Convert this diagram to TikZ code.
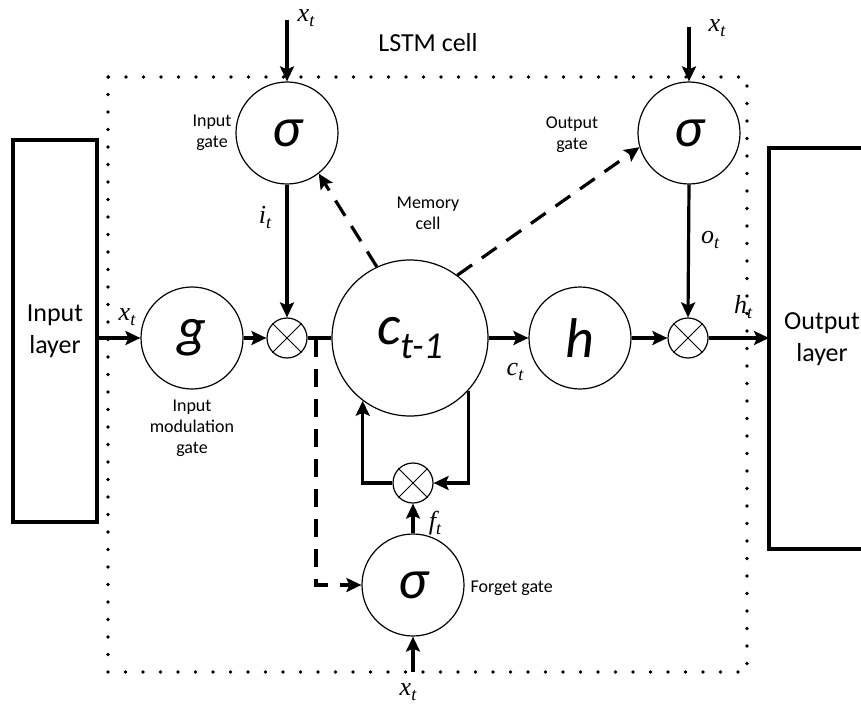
\documentclass[tikz,border=0pt]{standalone}
\usepackage{fontspec}
\setmainfont{Carlito}
\newfontfamily\tnr{Liberation Serif}
\usetikzlibrary{arrows.meta,calc}
\newcommand{\vr}[2]{{\tnr\itshape\fontsize{26}{26}\selectfont #1\raisebox{-5pt}{\fontsize{18}{18}\selectfont #2}}}
\tikzset{
  circ/.style={draw,circle,line width=1.2pt,minimum size=102pt,inner sep=0pt,font=\fontsize{56}{56}\selectfont\itshape},
  mult/.style={draw,circle,line width=1.2pt,minimum size=40pt,inner sep=0pt},
  arr/.style={line width=3.2pt,-{Stealth[length=15pt,width=14pt,inset=3pt]}},
  plain/.style={line width=3.2pt},
  dsh/.style={line width=3.2pt,dash pattern=on 18pt off 12pt},
  darr/.style={dsh,-{Stealth[length=15pt,width=14pt,inset=3pt]}},
  small/.style={font=\fontsize{18}{21}\selectfont,align=center},
  big/.style={font=\fontsize{26}{32}\selectfont,align=center},
  layerbox/.style={draw,line width=3.2pt},
}
\begin{document}
\begin{tikzpicture}[x=1pt,y=-1pt]
\useasboundingbox (0,0) rectangle (861,706);
% dotted cell boundary
\draw[line width=3.6pt,line cap=round,dash pattern=on 0pt off 17.5pt] (108,77) rectangle (747,672);
\node[big] (cell) at (428,43) {LSTM cell};
% layers
\draw[layerbox] (13,140) rectangle (97,522);
\node[big] (inl) at (55,331) {Input\\layer};
\coordinate (inlE) at (97,338);
\draw[layerbox] (875,148) -- (769,148) -- (769,549) -- (875,549);
\node[big] (outl) at (822,339) {Output\\layer};
\coordinate (outlW) at (769,338);
% circles
\node[circ] (ig) at (287,133) {σ};
\node[circ] (og) at (689,133) {σ};
\node[circ] (g) at (192,338) {g};
\node[circ,minimum size=156pt] (c) at (410,338) {c\raisebox{-14pt}{\fontsize{38}{38}\selectfont t-1}};
\node[circ] (h) at (580,338) {h};
\node[circ] (fg) at (413,585) {σ};
\node[mult] (m1) at (287,338) {};
\node[mult] (m2) at (688,338) {};
\node[mult] (m3) at (413,483) {};
\foreach \m in {m1,m2,m3} {\draw[line width=0.9pt] (\m.45) -- (\m.225) (\m.135) -- (\m.-45);}
% labels
\node[small] (lig) at (212,133) {Input\\gate};
\node[small] (log) at (572,135) {Output\\gate};
\node[small] (lmem) at (428,213) {Memory\\cell};
\node[small] (lg) at (192,428) {Input\\modulation\\gate};
\node[small,anchor=west] (lfg) at (467,588) {Forget gate};
\node (xt1) at (306,18) {\vr{x}{t}};
\node (xt2) at (717,28) {\vr{x}{t}};
\node (xt3) at (408,692) {\vr{x}{t}};
\node (xt4) at (127,317) {\vr{x}{t}};
\node (it) at (265,217) {\vr{i}{t}};
\node (ot) at (710,240) {\vr{o}{t}};
\node (ct) at (515,372) {\vr{c}{t}};
\node (ht) at (743,307) {\vr{h}{t}};
\node (ft) at (435,523) {\vr{f}{t}};
% connectors
\coordinate (s1) at (287,20);
\coordinate (s2) at (689,27);
\coordinate (s3) at (413,672);
\draw[arr] (s1) -- (ig.north);
\draw[arr] (s2) -- (og.north);
\draw[arr] (s3) -- (fg.south);
\draw[arr] (ig.south) -- (m1.north);
\draw[arr] (og.south) -- (m2.north);
\draw[arr] (inlE) -- (g.west);
\draw[arr] (g.east) -- (m1.west);
\draw[plain] (m1.east) -- (c.west);
\draw[arr] (c.east) -- (h.west);
\draw[arr] (h.east) -- (m2.west);
\draw[arr] (m2.east) -- (outlW);
\draw[arr] (fg.north) -- (m3.south);
\draw[arr] (m3.west) -| (c.233);
\draw[arr] (c.-42) |- (m3.east);
\draw[darr] (c.115) -- (ig.-52);
\draw[darr] (c.53) -- (og.196);
\coordinate (d1) at (316,339);
\draw[darr] (d1) |- (fg.west);
\end{tikzpicture}
\end{document}
